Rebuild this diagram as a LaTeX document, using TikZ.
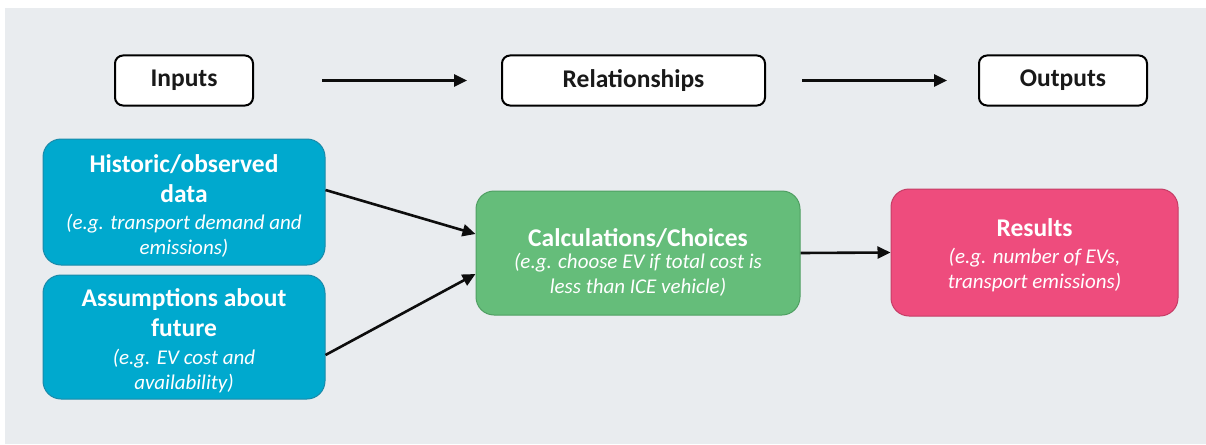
\documentclass[tikz,border=0pt]{standalone}
\usepackage{fontspec}
\setmainfont{Carlito}
\usetikzlibrary{arrows.meta,calc}
\definecolor{bggray}{HTML}{E9ECEF}
\definecolor{bluefill}{HTML}{00A9CE}
\definecolor{blueline}{HTML}{1A8AAA}
\definecolor{greenfill}{HTML}{65BD7A}
\definecolor{greenline}{HTML}{4F9F62}
\definecolor{pinkfill}{HTML}{EE4C7D}
\definecolor{pinkline}{HTML}{C53D66}
\tikzset{
  headbox/.style={draw=black, line width=2pt, fill=white, rounded corners=8pt,
    minimum height=50pt, inner sep=0pt,
    font=\fontsize{25.5}{30}\selectfont\bfseries, text=black!90},
  colbox/.style={line width=1pt, rounded corners=18pt, inner sep=0pt},
  titletext/.style={align=center, text=white, inner sep=0pt,
    font=\fontsize{25.5}{30}\selectfont\bfseries},
  subtext/.style={align=center, text=white, inner sep=0pt,
    font=\fontsize{21}{25}\selectfont\itshape},
  conn/.style={line width=2.6pt, draw=black!95, -{Triangle[length=13pt,width=12pt]}}
}
\begin{document}
\begin{tikzpicture}[x=1pt,y=-1pt]
\useasboundingbox (0,0) rectangle (1206,444);
\fill[bggray] (5,8) rectangle (1206,444);
% header boxes
\node[headbox, minimum width=138pt] (inputs) at (184,80.5) {Inputs};
\node[headbox, minimum width=263pt] (rel) at (633.5,80.5) {Relationships};
\node[headbox, minimum width=168pt] (outputs) at (1063,80.5) {Outputs};
% colored boxes
\node[colbox, draw=blueline, fill=bluefill, minimum width=282pt, minimum height=126pt] (hist) at (184,202) {};
\node[titletext] (histT) at (184,179) {Historic/observed\\data};
\node[subtext] (histS) at (184,236) {(e.g. transport demand and\\emissions)};

\node[colbox, draw=blueline, fill=bluefill, minimum width=282pt, minimum height=124pt] (assum) at (184,337) {};
\node[titletext] (assumT) at (184,313) {Assumptions about\\future};
\node[subtext] (assumS) at (184,371) {(e.g. EV cost and\\availability)};

\node[colbox, draw=greenline, fill=greenfill, minimum width=324pt, minimum height=124pt] (calc) at (638,253) {};
\node[titletext] (calcT) at (638,238) {Calculations/Choices};
\node[subtext] (calcS) at (638,275) {(e.g. choose EV if total cost is\\less than ICE vehicle)};

\node[colbox, draw=pinkline, fill=pinkfill, minimum width=287pt, minimum height=127pt] (res) at (1034.5,252.5) {};
\node[titletext] (resT) at (1034.5,228) {Results};
\node[subtext] (resS) at (1034.5,270) {(e.g. number of EVs,\\transport emissions)};
% header arrows
\draw[conn] ($(inputs.east)+(68,0)$) -- ($(rel.west)+(-34,0)$);
\draw[conn] ($(rel.east)+(36,0)$) -- ($(outputs.west)+(-31,0)$);
% box arrows
\draw[conn] ($(hist.east)+(0,-12)$) -- ($(calc.west)+(0,-19)$);
\draw[conn] ($(assum.east)+(0,18)$) -- ($(calc.west)+(0,21)$);
\draw[conn] (calc.east) -- (res.west);
\end{tikzpicture}
\end{document}
